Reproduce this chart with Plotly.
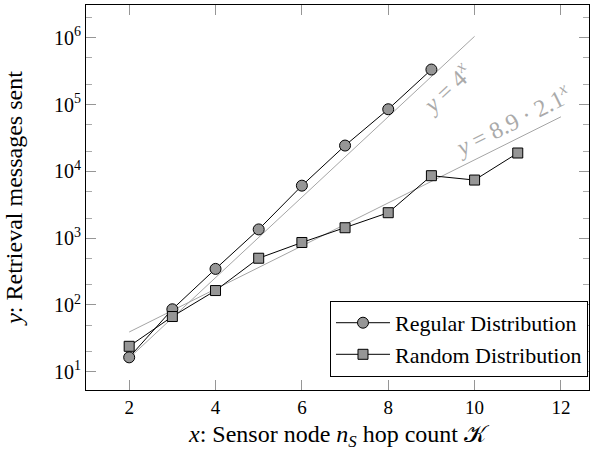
import plotly.graph_objects as go

hops_regular = [2, 3, 4, 5, 6, 7, 8, 9]
msgs_regular = [16.4, 86, 346, 1350, 6100, 24300, 85000, 334000]
hops_random = [2, 3, 4, 5, 6, 7, 8, 9, 10, 11]
msgs_random = [24, 67, 164, 500, 860, 1430, 2400, 8600, 7400, 18800]

# fit lines y = 4^x (x in 2..10) and y = 8.9*2.1^x (x in 2..12), endpoints
fit1_x = [2, 10]
fit1_y = [16, 1048576]
fit2_x = [2, 12]
fit2_y = [39.25, 65470]

y_tickvals = [10, 100, 1000, 10000, 100000, 1000000]
y_ticktext = ["10<sup>1</sup>", "10<sup>2</sup>", "10<sup>3</sup>", "10<sup>4</sup>", "10<sup>5</sup>", "10<sup>6</sup>"]
x_tickvals = [2, 4, 6, 8, 10, 12]

FONT = "Liberation Serif"
MARK_FILL = "rgb(150,150,150)"
FIT = "rgb(165,165,165)"

fig = go.Figure()
fig.add_trace(go.Scatter(x=fit1_x, y=fit1_y, mode="lines", line=dict(color=FIT, width=1), showlegend=False, hoverinfo="skip"))
fig.add_trace(go.Scatter(x=fit2_x, y=fit2_y, mode="lines", line=dict(color=FIT, width=1), showlegend=False, hoverinfo="skip"))
fig.add_trace(go.Scatter(x=hops_regular, y=msgs_regular, mode="lines+markers", name="Regular Distribution",
                         line=dict(color="black", width=1),
                         marker=dict(symbol="circle", size=11, color=MARK_FILL, line=dict(color="black", width=1))))
fig.add_trace(go.Scatter(x=hops_random, y=msgs_random, mode="lines+markers", name="Random Distribution",
                         line=dict(color="black", width=1),
                         marker=dict(symbol="square", size=10, color=MARK_FILL, line=dict(color="black", width=1))))

fig.add_annotation(x=9.33, y=5.25, xref="x", yref="y", text="<i>y</i> = 4<sup><i>x</i></sup>", showarrow=False,
                   textangle=-43, font=dict(family=FONT, size=24, color="rgb(170,170,170)"))
fig.add_annotation(x=10.86, y=4.77, xref="x", yref="y", text="<i>y</i> = 8.9 · 2.1<sup><i>x</i></sup>", showarrow=False,
                   textangle=-26.5, font=dict(family=FONT, size=24, color="rgb(170,170,170)"))

fig.update_layout(
    width=602, height=457,
    margin=dict(l=86, r=13, t=5, b=67),
    paper_bgcolor="white", plot_bgcolor="white",
    font=dict(family=FONT, size=19, color="black"),
    showlegend=True,
    legend=dict(x=0.998, y=0.034, xanchor="right", yanchor="bottom",
                bordercolor="black", borderwidth=1, bgcolor="white",
                font=dict(family=FONT, size=22), tracegroupgap=0, itemwidth=54),
    xaxis=dict(range=[1, 12.65], tickvals=x_tickvals, ticks="inside", ticklen=10, tickcolor="rgb(150,150,150)",
               showline=True, linecolor="black", linewidth=1, mirror="ticks", showgrid=False, zeroline=False,
               tickfont=dict(size=19),
               title=dict(text="<i>x</i>: Sensor node <i>n</i><sub><i>S</i></sub> hop count 𝒦", font=dict(size=24), standoff=8)),
    yaxis=dict(type="log", range=[0.726, 6.49], tickvals=y_tickvals, ticktext=y_ticktext,
               ticks="inside", ticklen=10, tickcolor="rgb(150,150,150)",
               minor=dict(ticks="inside", ticklen=6, tickcolor="rgb(170,170,170)", showgrid=False),
               showline=True, linecolor="black", linewidth=1, mirror="ticks", showgrid=False, zeroline=False,
               tickfont=dict(size=20),
               title=dict(text="<i>y</i>: Retrieval messages sent", font=dict(size=24), standoff=24)),
)

fig.write_html("out.html")
